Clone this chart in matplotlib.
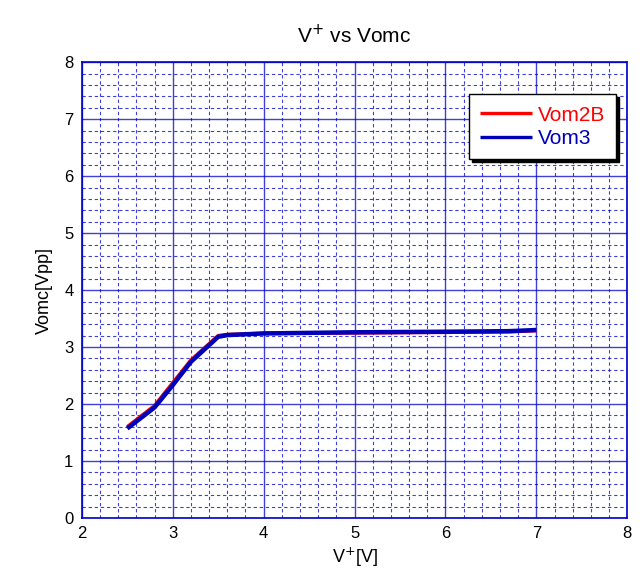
import matplotlib
matplotlib.use('Agg')
import matplotlib.pyplot as plt
from matplotlib.ticker import MultipleLocator

plt.rcParams['font.family'] = ['Liberation Sans', 'DejaVu Sans']

# data
vplus = [2.5, 2.8, 3.0, 3.2, 3.5, 3.6, 4.0, 5.0, 6.0, 6.7, 7.0]
vom2b = [1.60, 1.97, 2.37, 2.77, 3.20, 3.22, 3.24, 3.25, 3.26, 3.27, 3.29]
vom3 = [1.57, 1.94, 2.33, 2.74, 3.18, 3.21, 3.24, 3.26, 3.27, 3.28, 3.30]

GRID = '#0000CC'

fig = plt.figure(figsize=(6.44, 5.82), dpi=100)
ax = fig.add_axes([0.127, 0.110, 0.847, 0.783])

ax.plot(vplus, vom2b, color='#FF0000', lw=2.6, label='Vom2B', solid_capstyle='butt')
ax.plot(vplus, vom3, color='#0000BB', lw=3.2, label='Vom3', solid_capstyle='butt')

ax.set_xlim(2, 8)
ax.set_ylim(0, 8)
ax.xaxis.set_major_locator(MultipleLocator(1))
ax.yaxis.set_major_locator(MultipleLocator(1))
ax.xaxis.set_minor_locator(MultipleLocator(0.2))
ax.yaxis.set_minor_locator(MultipleLocator(0.2))
ax.grid(which='major', color=GRID, lw=1.0, alpha=0.75)
ax.grid(which='minor', color=GRID, lw=0.8, ls=(0, (3, 2.5)), alpha=0.75)
ax.set_axisbelow(True)
ax.tick_params(which='both', length=0, labelsize=12, pad=6)
for s in ax.spines.values():
    s.set_color(GRID)
    s.set_linewidth(1.2)

ax.set_xlabel('V$^{+}$[V]', fontsize=13, labelpad=3)
ax.set_ylabel('Vomc[Vpp]', fontsize=13, labelpad=8)
ax.set_title('V$^{+}$ vs Vomc', fontsize=15, pad=14)

leg = ax.legend(loc='upper right', bbox_to_anchor=(0.980, 0.930), fontsize=15,
                fancybox=False, shadow={'color': 'black', 'alpha': 1.0},
                framealpha=1, edgecolor='black', handlelength=2.5,
                borderaxespad=0, labelspacing=0.2, handletextpad=0.25,
                borderpad=0.55)
leg.get_frame().set_linewidth(1.0)
for h in leg.legend_handles:
    h.set_linewidth(2.4)
for txt, c in zip(leg.get_texts(), ['#FF0000', '#0000BB']):
    txt.set_color(c)

fig.savefig('out.png', dpi=100)
